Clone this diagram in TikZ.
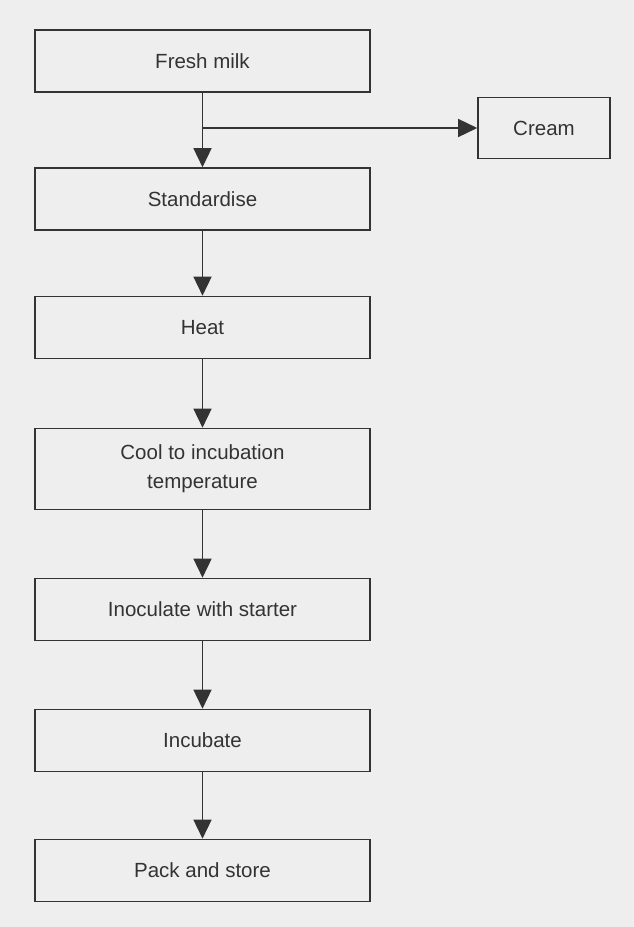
\documentclass[tikz,border=0pt]{standalone}
\usepackage{fontspec}
\setmainfont{Liberation Sans}
\usetikzlibrary{arrows.meta}
\definecolor{bg}{HTML}{EEEEEE}
\definecolor{ink}{HTML}{333333}
\begin{document}
\begin{tikzpicture}[x=1pt,y=-1pt,
  stepbox/.style={draw=ink, line width=1.6pt, minimum width=335pt, minimum height=62pt,
    inner sep=0pt, text=ink, align=center, font=\fontsize{20.5}{29}\selectfont},
  flow/.style={draw=ink, line width=1.5pt, -{Triangle[length=19pt,width=18pt]}}]
\fill[bg] (0,0) rectangle (634,927);
\useasboundingbox (0,0) rectangle (634,927);
\node[stepbox] (fresh) at (202.5,61) {Fresh milk};
\node[stepbox, minimum width=132pt, minimum height=61pt] (cream) at (544,128) {Cream};
\node[stepbox] (stand) at (202.5,199) {Standardise};
\node[stepbox] (heat) at (202.5,327.5) {Heat};
\node[stepbox, minimum height=81pt] (cool) at (202.5,469) {Cool to incubation\\temperature};
\node[stepbox] (inoc) at (202.5,609.5) {Inoculate with starter};
\node[stepbox] (incub) at (202.5,740.5) {Incubate};
\node[stepbox] (pack) at (202.5,870.5) {Pack and store};
\coordinate (j) at (fresh.south |- cream.west);
\draw[flow] (fresh) -- (stand);
\draw[flow] (j) -- (cream.west);
\draw[flow] (stand) -- (heat);
\draw[flow] (heat) -- (cool);
\draw[flow] (cool) -- (inoc);
\draw[flow] (inoc) -- (incub);
\draw[flow] (incub) -- (pack);
\end{tikzpicture}
\end{document}
